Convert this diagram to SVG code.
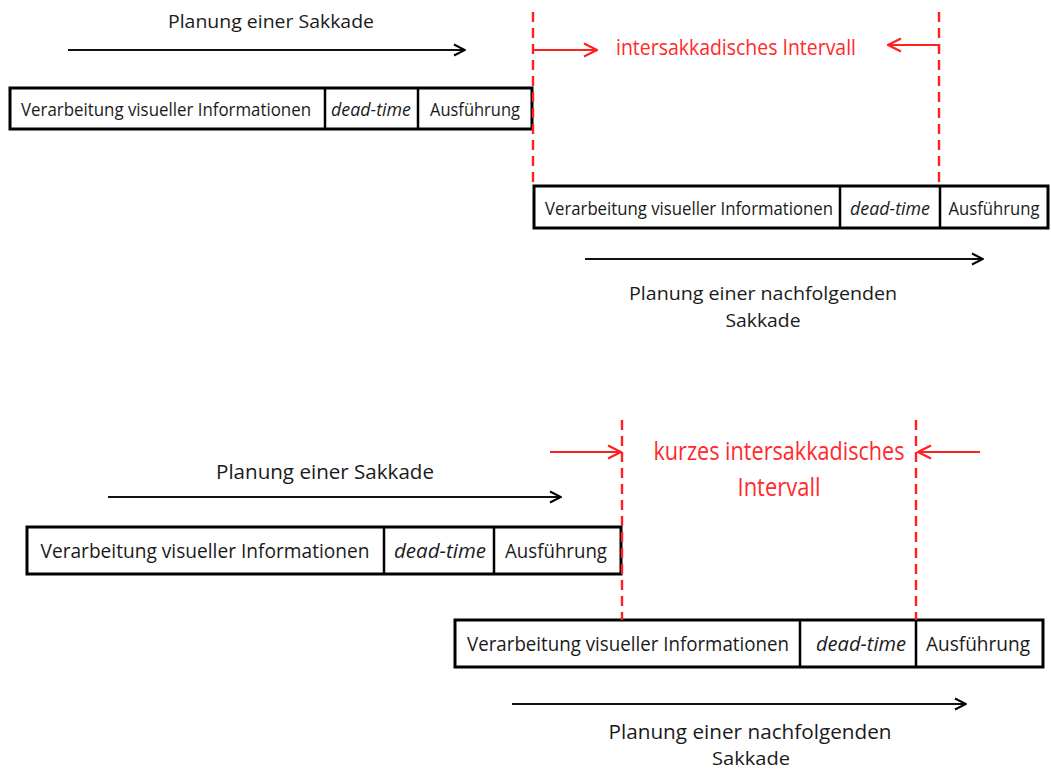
<svg xmlns="http://www.w3.org/2000/svg" width="1051" height="771" viewBox="0 0 1051 771">
  <defs>
    <marker id="openBlack" viewBox="0 0 14 14" refX="13" refY="7" markerWidth="14" markerHeight="14" markerUnits="userSpaceOnUse" orient="auto">
      <path d="M2,1.5 L13,7 L2,12.5" fill="none" stroke="#000" stroke-width="2"/>
    </marker>
    <marker id="openRed" viewBox="0 0 16 16" refX="15" refY="8" markerWidth="16" markerHeight="16" markerUnits="userSpaceOnUse" orient="auto">
      <path d="M2,1.5 L15,8 L2,14.5" fill="none" stroke="#ff2020" stroke-width="2.2"/>
    </marker>
  </defs>
  <style>
    text { font-family: "Open Sans", "Liberation Sans", sans-serif; fill: #1a1a1a; text-anchor: middle; }
    .it { font-style: italic; }
    .red { fill: #ff2a2a; }
    .box { fill: #fff; stroke: #000; stroke-width: 3; }
    .div { stroke: #000; stroke-width: 2.5; }
    .arrow { stroke: #111; stroke-width: 1.9; fill: none; marker-end: url(#openBlack); }
    .rarrow { stroke: #ff2020; stroke-width: 2.2; fill: none; marker-end: url(#openRed); }
    .dash { stroke: #ff2020; stroke-width: 2.4; stroke-dasharray: 10 6; fill: none; }
  </style>
  <rect width="1051" height="771" fill="#fff"/>

  <!-- upper timeline -->
  <g id="box-top-1">
    <rect class="box" x="10" y="88" width="522" height="41"/>
    <line class="div" x1="325" y1="88" x2="325" y2="129"/>
    <line class="div" x1="418" y1="88" x2="418" y2="129"/>
    <text x="166" y="116" font-size="17.5" textLength="290" lengthAdjust="spacingAndGlyphs">Verarbeitung visueller Informationen</text>
    <text class="it" x="371" y="116" font-size="17.5" textLength="80" lengthAdjust="spacingAndGlyphs">dead-time</text>
    <text x="475" y="116" font-size="17.5" textLength="90" lengthAdjust="spacingAndGlyphs">Ausführung</text>
  </g>
  <g id="box-top-2">
    <rect class="box" x="534" y="186" width="514" height="42"/>
    <line class="div" x1="840" y1="186" x2="840" y2="228"/>
    <line class="div" x1="940" y1="186" x2="940" y2="228"/>
    <text x="689" y="215" font-size="17.5" textLength="288" lengthAdjust="spacingAndGlyphs">Verarbeitung visueller Informationen</text>
    <text class="it" x="890" y="215" font-size="17.5" textLength="80" lengthAdjust="spacingAndGlyphs">dead-time</text>
    <text x="994" y="215" font-size="17.5" textLength="91" lengthAdjust="spacingAndGlyphs">Ausführung</text>
  </g>
  <g id="label-top">
    <text x="271" y="28" font-size="18.5" textLength="206" lengthAdjust="spacingAndGlyphs">Planung einer Sakkade</text>
    <text x="763" y="300" font-size="18.5" textLength="268" lengthAdjust="spacingAndGlyphs">Planung einer nachfolgenden</text>
    <text x="763" y="327" font-size="18.5" textLength="75" lengthAdjust="spacingAndGlyphs">Sakkade</text>
    <text class="red" x="736" y="55" font-size="22" textLength="240" lengthAdjust="spacingAndGlyphs">intersakkadisches Intervall</text>
  </g>

  <!-- lower timeline -->
  <g id="box-bottom-1">
    <rect class="box" x="27" y="527" width="594" height="47"/>
    <line class="div" x1="384" y1="527" x2="384" y2="574"/>
    <line class="div" x1="494" y1="527" x2="494" y2="574"/>
    <text x="205" y="558" font-size="20.5" textLength="329" lengthAdjust="spacingAndGlyphs">Verarbeitung visueller Informationen</text>
    <text class="it" x="440" y="558" font-size="20.5" textLength="92" lengthAdjust="spacingAndGlyphs">dead-time</text>
    <text x="556" y="558" font-size="20.5" textLength="102" lengthAdjust="spacingAndGlyphs">Ausführung</text>
  </g>
  <g id="box-bottom-2">
    <rect class="box" x="455" y="620" width="588" height="47"/>
    <line class="div" x1="800" y1="620" x2="800" y2="667"/>
    <line class="div" x1="916" y1="620" x2="916" y2="667"/>
    <text x="628" y="651" font-size="20.5" textLength="322" lengthAdjust="spacingAndGlyphs">Verarbeitung visueller Informationen</text>
    <text class="it" x="861" y="651" font-size="20.5" textLength="90" lengthAdjust="spacingAndGlyphs">dead-time</text>
    <text x="978" y="651" font-size="20.5" textLength="104" lengthAdjust="spacingAndGlyphs">Ausführung</text>
  </g>
  <g id="label-bottom">
    <text x="325" y="479" font-size="20" textLength="218" lengthAdjust="spacingAndGlyphs">Planung einer Sakkade</text>
    <text x="750" y="739" font-size="20" textLength="283" lengthAdjust="spacingAndGlyphs">Planung einer nachfolgenden</text>
    <text x="751" y="765" font-size="19" textLength="78" lengthAdjust="spacingAndGlyphs">Sakkade</text>
    <text class="red" x="779" y="460" font-size="25" textLength="251" lengthAdjust="spacingAndGlyphs">kurzes intersakkadisches</text>
    <text class="red" x="779" y="496" font-size="25" textLength="83" lengthAdjust="spacingAndGlyphs">Intervall</text>
  </g>

  <!-- connectors -->
  <g id="connectors">
    <line class="arrow" x1="68" y1="50" x2="465" y2="50"/>
    <line class="arrow" x1="585" y1="259" x2="983" y2="259"/>
    <line class="arrow" x1="108" y1="497" x2="561" y2="497"/>
    <line class="arrow" x1="512" y1="704" x2="966" y2="704"/>

    <line class="dash" x1="533" y1="12" x2="533" y2="186"/>
    <line class="dash" x1="939" y1="12" x2="939" y2="186"/>
    <line class="rarrow" x1="533" y1="50" x2="597" y2="50"/>
    <path class="rarrow" d="M939,50 L939,45 L888,45"/>

    <line class="dash" x1="622" y1="420" x2="622" y2="620"/>
    <line class="dash" x1="916" y1="420" x2="916" y2="620"/>
    <line class="rarrow" x1="550" y1="452" x2="621" y2="452"/>
    <line class="rarrow" x1="980" y1="452" x2="918" y2="452"/>
  </g>
</svg>
